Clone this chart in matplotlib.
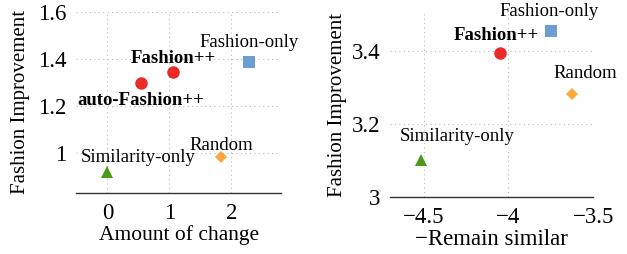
import matplotlib.pyplot as plt

plt.rcParams['font.family'] = ['Liberation Serif', 'DejaVu Serif']
plt.rcParams['mathtext.fontset'] = 'stix'

methods = ['Similarity-only', 'Random', 'auto-Fashion++', 'Fashion++', 'Fashion-only']

# left panel: amount of change vs fashion improvement
change_x = [0.0, 1.84, 0.54, 1.06, 2.29]
change_y = [0.918, 0.982, 1.296, 1.345, 1.388]

# right panel: -remain similar vs fashion improvement (no auto-Fashion++)
sim_methods = ['Similarity-only', 'Random', 'Fashion++', 'Fashion-only']
sim_x = [-4.515, -3.625, -4.053, -3.749]
sim_y = [3.101, 3.28, 3.394, 3.453]

# marker styles per method
styles = {
    'Similarity-only': dict(marker='^', color='#4a9a18', ms=9),
    'Random': dict(marker='D', color='#f9a83c', ms=6.5),
    'auto-Fashion++': dict(marker='o', color='#eb2a2a', ms=9),
    'Fashion++': dict(marker='o', color='#eb2a2a', ms=9),
    'Fashion-only': dict(marker='s', color='#6c9dd3', ms=8.5),
}
bold = {'Fashion++', 'auto-Fashion++'}

# label offsets in pixels (dx, dy)
left_off = {
    'Similarity-only': (31, 15),
    'Random': (0, 12),
    'auto-Fashion++': (0, -17),
    'Fashion++': (0, 13),
    'Fashion-only': (0, 19),
}
right_off = {
    'Similarity-only': (36, 23),
    'Random': (13, 21),
    'Fashion++': (-3, 17),
    'Fashion-only': (-2, 20),
}

fig = plt.figure(figsize=(6.27, 2.54), dpi=100)
ax1 = fig.add_axes([0.122, 0.240, 0.326, 0.714])
ax2 = fig.add_axes([0.622, 0.225, 0.324, 0.720])


def style_axes(ax, ylabelpad):
    for s in ['left', 'right', 'top']:
        ax.spines[s].set_visible(False)
    ax.spines['bottom'].set_color('#333333')
    ax.spines['bottom'].set_linewidth(1.0)
    ax.tick_params(length=0, labelsize=16.5, pad=7)
    ax.grid(True, linestyle=(0, (1, 3)), color='#bbbbbb', linewidth=0.8)
    ax.set_axisbelow(True)
    ax.set_ylabel('Fashion Improvement', fontsize=15, labelpad=ylabelpad)


def draw(ax, names, xs, ys, offs):
    for n, x, y in zip(names, xs, ys):
        st = styles[n]
        ax.plot([x], [y], linestyle='none', marker=st['marker'], color=st['color'],
                markersize=st['ms'], markeredgewidth=0, zorder=3)
        ax.annotate(n, (x, y), xytext=offs[n], textcoords='offset pixels',
                    ha='center', va='center', fontsize=13.5,
                    fontweight='bold' if n in bold else 'normal')


draw(ax1, methods, change_x, change_y, left_off)
style_axes(ax1, 6)
ax1.set_xlim(-0.5, 2.8)
ax1.set_ylim(0.83, 1.6)
ax1.set_xticks([0, 1, 2])
ax1.set_yticks([1.0, 1.2, 1.4, 1.6])
ax1.set_yticklabels(['1', '1.2', '1.4', '1.6'])
ax1.set_xlabel('Amount of change', fontsize=15.5, labelpad=1)

draw(ax2, sim_methods, sim_x, sim_y, right_off)
style_axes(ax2, 3)
ax2.set_xlim(-4.7, -3.5)
ax2.set_ylim(3.0, 3.5)
ax2.set_xticks([-4.5, -4, -3.5])
ax2.set_xticklabels(['\u22124.5', '\u22124', '\u22123.5'])
ax2.set_yticks([3.0, 3.2, 3.4])
ax2.set_yticklabels(['3', '3.2', '3.4'])
ax2.set_xlabel('\u2212Remain similar', fontsize=16.5, labelpad=1)

fig.savefig('out.png', dpi=100)
